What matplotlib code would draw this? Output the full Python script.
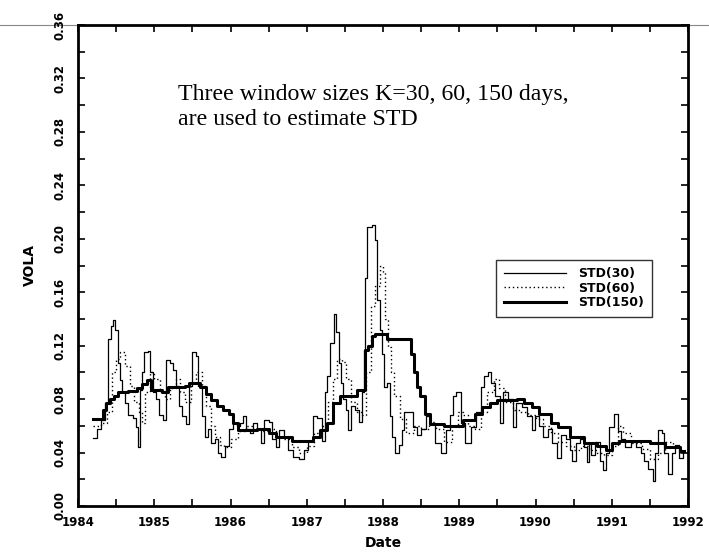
import matplotlib
matplotlib.use("Agg")
import matplotlib.pyplot as plt
from matplotlib.lines import Line2D

# ---------------- data ----------------
t30 = [1984.20, 1984.25, 1984.30, 1984.35, 1984.39, 1984.43, 1984.46, 1984.49, 1984.52, 1984.55,
       1984.58, 1984.62, 1984.66, 1984.72, 1984.76, 1984.79, 1984.81, 1984.84, 1984.87, 1984.92,
       1984.95, 1984.98, 1985.02, 1985.06, 1985.12, 1985.16, 1985.21, 1985.25, 1985.28, 1985.32,
       1985.36, 1985.41, 1985.45, 1985.50, 1985.55, 1985.58, 1985.62, 1985.66, 1985.70, 1985.75,
       1985.80, 1985.84, 1985.88, 1985.93, 1985.98, 1986.03, 1986.08, 1986.12, 1986.16, 1986.20,
       1986.25, 1986.30, 1986.35, 1986.40, 1986.44, 1986.50, 1986.55, 1986.60, 1986.64, 1986.70,
       1986.76, 1986.82, 1986.90, 1986.96, 1987.02, 1987.08, 1987.14, 1987.20, 1987.24, 1987.27,
       1987.31, 1987.36, 1987.39, 1987.42, 1987.45, 1987.48, 1987.51, 1987.54, 1987.58, 1987.63,
       1987.68, 1987.73, 1987.75, 1987.77, 1987.79, 1987.85, 1987.89, 1987.92, 1987.96, 1987.99,
       1988.01, 1988.05, 1988.09, 1988.12, 1988.16, 1988.21, 1988.25, 1988.28, 1988.34, 1988.39,
       1988.44, 1988.50, 1988.56, 1988.62, 1988.68, 1988.76, 1988.82, 1988.88, 1988.92, 1988.96,
       1989.02, 1989.08, 1989.16, 1989.22, 1989.28, 1989.33, 1989.38, 1989.42, 1989.47, 1989.53,
       1989.57, 1989.64, 1989.70, 1989.75, 1989.82, 1989.89, 1989.95, 1989.99, 1990.05, 1990.10,
       1990.16, 1990.22, 1990.28, 1990.33, 1990.40, 1990.45, 1990.48, 1990.53, 1990.58, 1990.63,
       1990.67, 1990.70, 1990.73, 1990.78, 1990.84, 1990.89, 1990.93, 1990.97, 1991.03, 1991.08,
       1991.12, 1991.18, 1991.25, 1991.32, 1991.38, 1991.42, 1991.47, 1991.54, 1991.57, 1991.61,
       1991.66, 1991.69, 1991.74, 1991.79, 1991.83, 1991.88, 1991.93]
std30 = [0.051, 0.058, 0.064, 0.077, 0.125, 0.135, 0.139, 0.132, 0.107, 0.094,
         0.085, 0.077, 0.068, 0.066, 0.059, 0.044, 0.087, 0.100, 0.115, 0.116,
         0.100, 0.085, 0.080, 0.068, 0.064, 0.109, 0.107, 0.102, 0.090, 0.075,
         0.067, 0.061, 0.090, 0.115, 0.112, 0.090, 0.067, 0.052, 0.058, 0.047,
         0.050, 0.040, 0.037, 0.045, 0.058, 0.062, 0.060, 0.062, 0.067, 0.058,
         0.055, 0.062, 0.058, 0.047, 0.064, 0.063, 0.050, 0.044, 0.057, 0.052,
         0.042, 0.037, 0.035, 0.042, 0.049, 0.067, 0.066, 0.049, 0.085, 0.097,
         0.122, 0.144, 0.130, 0.107, 0.092, 0.080, 0.072, 0.057, 0.075, 0.072,
         0.063, 0.085, 0.117, 0.171, 0.209, 0.210, 0.199, 0.154, 0.132, 0.114,
         0.089, 0.092, 0.067, 0.052, 0.040, 0.046, 0.057, 0.070, 0.070, 0.059,
         0.053, 0.058, 0.067, 0.062, 0.047, 0.040, 0.057, 0.068, 0.082, 0.085,
         0.062, 0.047, 0.059, 0.070, 0.089, 0.097, 0.100, 0.092, 0.082, 0.062,
         0.085, 0.080, 0.059, 0.077, 0.074, 0.067, 0.057, 0.067, 0.060, 0.052,
         0.058, 0.047, 0.036, 0.053, 0.050, 0.042, 0.034, 0.047, 0.050, 0.044,
         0.033, 0.047, 0.038, 0.048, 0.034, 0.027, 0.040, 0.059, 0.069, 0.056,
         0.050, 0.044, 0.048, 0.044, 0.040, 0.034, 0.028, 0.019, 0.040, 0.057,
         0.055, 0.040, 0.024, 0.040, 0.046, 0.036, 0.040]

t60 = [1984.20, 1984.30, 1984.38, 1984.45, 1984.50, 1984.55, 1984.62, 1984.68, 1984.74, 1984.80,
       1984.84, 1984.88, 1984.95, 1985.00, 1985.08, 1985.14, 1985.20, 1985.28, 1985.34, 1985.40,
       1985.48, 1985.55, 1985.62, 1985.68, 1985.74, 1985.80, 1985.86, 1985.92, 1986.00, 1986.10,
       1986.20, 1986.30, 1986.40, 1986.50, 1986.60, 1986.70, 1986.80, 1986.90, 1987.00, 1987.10,
       1987.20, 1987.28, 1987.34, 1987.40, 1987.46, 1987.52, 1987.58, 1987.66, 1987.72, 1987.78,
       1987.84, 1987.90, 1987.96, 1988.00, 1988.03, 1988.06, 1988.10, 1988.15, 1988.22, 1988.30,
       1988.40, 1988.50, 1988.60, 1988.70, 1988.80, 1988.90, 1988.98, 1989.05, 1989.12, 1989.20,
       1989.28, 1989.36, 1989.45, 1989.52, 1989.60, 1989.70, 1989.80, 1989.90, 1990.00, 1990.10,
       1990.20, 1990.30, 1990.40, 1990.50, 1990.60, 1990.70, 1990.80, 1990.90, 1991.00, 1991.08,
       1991.15, 1991.25, 1991.40, 1991.50, 1991.60, 1991.70, 1991.80, 1991.90]
std60 = [0.060, 0.062, 0.070, 0.100, 0.110, 0.115, 0.105, 0.090, 0.078, 0.070,
         0.062, 0.085, 0.100, 0.095, 0.085, 0.080, 0.088, 0.095, 0.085, 0.078,
         0.092, 0.100, 0.090, 0.075, 0.060, 0.052, 0.046, 0.044, 0.050, 0.056,
         0.060, 0.058, 0.056, 0.058, 0.052, 0.050, 0.044, 0.040, 0.045, 0.055,
         0.060, 0.078, 0.095, 0.110, 0.108, 0.095, 0.078, 0.070, 0.068, 0.100,
         0.150, 0.165, 0.180, 0.175, 0.140, 0.119, 0.100, 0.082, 0.065, 0.055,
         0.060, 0.058, 0.063, 0.058, 0.048, 0.060, 0.070, 0.068, 0.060, 0.058,
         0.070, 0.085, 0.095, 0.088, 0.078, 0.072, 0.070, 0.068, 0.065, 0.060,
         0.055, 0.048, 0.045, 0.042, 0.045, 0.042, 0.040, 0.038, 0.045, 0.060,
         0.055, 0.047, 0.043, 0.035, 0.040, 0.048, 0.044, 0.040]

t150 = [1984.20, 1984.30, 1984.33, 1984.37, 1984.42, 1984.47, 1984.52, 1984.65, 1984.78, 1984.84,
        1984.90, 1984.96, 1985.10, 1985.18, 1985.40, 1985.45, 1985.60, 1985.68, 1985.75, 1985.82,
        1985.90, 1985.98, 1986.03, 1986.10, 1986.35, 1986.50, 1986.60, 1986.80, 1987.00, 1987.08,
        1987.17, 1987.26, 1987.35, 1987.44, 1987.66, 1987.76, 1987.80, 1987.85, 1987.90, 1988.05,
        1988.35, 1988.37, 1988.40, 1988.44, 1988.48, 1988.55, 1988.62, 1988.80, 1989.00, 1989.05,
        1989.20, 1989.30, 1989.40, 1989.50, 1989.76, 1989.85, 1989.95, 1990.05, 1990.10, 1990.20,
        1990.30, 1990.45, 1990.63, 1990.80, 1990.92, 1991.00, 1991.10, 1991.50, 1991.70, 1991.90,
        1991.95]
std150 = [0.065, 0.065, 0.072, 0.077, 0.080, 0.082, 0.085, 0.086, 0.088, 0.091,
          0.094, 0.087, 0.085, 0.089, 0.090, 0.092, 0.089, 0.084, 0.079, 0.075,
          0.072, 0.069, 0.062, 0.057, 0.058, 0.055, 0.052, 0.049, 0.049, 0.052,
          0.057, 0.062, 0.077, 0.082, 0.087, 0.117, 0.120, 0.127, 0.129, 0.125,
          0.125, 0.114, 0.100, 0.089, 0.082, 0.069, 0.061, 0.060, 0.060, 0.064,
          0.069, 0.074, 0.077, 0.079, 0.080, 0.077, 0.074, 0.069, 0.069, 0.062,
          0.059, 0.052, 0.047, 0.045, 0.042, 0.047, 0.049, 0.047, 0.044, 0.041,
          0.041]

year_ticks = [1984, 1985, 1986, 1987, 1988, 1989, 1990, 1991, 1992]
vola_ticks = [0.00, 0.04, 0.08, 0.12, 0.16, 0.20, 0.24, 0.28, 0.32, 0.36]
series_labels = ["STD(30)", "STD(60)", "STD(150)"]

# ---------------- figure ----------------
W, H = 709, 554
fig = plt.figure(figsize=(W / 100, H / 100), dpi=100)
L, R, T, B = 78, 688, 25, 506
ax = fig.add_axes([L / W, 1 - B / H, (R - L) / W, (B - T) / H])

# thin grey line at top of figure
fig.add_artist(Line2D([0, 1], [1 - T / H, 1 - T / H], transform=fig.transFigure,
                      color="#888888", lw=0.8, zorder=0))

ax.step(t30, std30, where="post", color="black", lw=0.9, label=series_labels[0])
ax.step(t60, std60, where="post", color="black", lw=1.0, ls=(0, (1, 2)), label=series_labels[1])
ax.step(t150, std150, where="post", color="black", lw=2.2, label=series_labels[2])

ax.set_xlim(1984, 1992)
ax.set_ylim(0, 0.36)
ax.set_xticks(year_ticks)
ax.set_xticklabels([str(y) for y in year_ticks])
ax.set_xticks([y + 0.5 for y in year_ticks[:-1]], minor=True)
ax.set_yticks(vola_ticks)
ax.set_yticklabels([f"{v:.2f}" for v in vola_ticks], rotation=90, va="center")
ax.set_yticks([v + 0.02 for v in vola_ticks[:-1]], minor=True)

for s in ax.spines.values():
    s.set_linewidth(2.0)

ax.tick_params(which="both", direction="in", length=5, width=1.2,
               top=True, right=True, labelsize=8.5)
ax.tick_params(axis="x", pad=7)
ax.tick_params(axis="y", pad=8)
for lab in ax.get_xticklabels() + ax.get_yticklabels():
    lab.set_fontweight("bold")

ax.set_xlabel("Date", fontsize=10, fontweight="bold", labelpad=5)
ax.set_ylabel("VOLA", fontsize=10, fontweight="bold", labelpad=12)

ax.text((178 - L) / (R - L), 1 - (107 - T) / (B - T),
        "Three window sizes K=30, 60, 150 days,\nare used to estimate STD",
        transform=ax.transAxes, family="Liberation Serif", fontsize=17.2,
        va="center", ha="left", linespacing=1.3)

leg = ax.legend(loc="upper left",
                bbox_to_anchor=((496 - L) / (R - L), 1 - (260 - T) / (B - T)),
                borderaxespad=0, frameon=True, fancybox=False,
                edgecolor="black", handlelength=5.0, handletextpad=1.0,
                labelspacing=0.1, borderpad=0.6,
                prop=dict(family="DejaVu Sans", weight="bold", size=9))
leg.get_frame().set_linewidth(1.0)

fig.savefig("out.png", dpi=100)
